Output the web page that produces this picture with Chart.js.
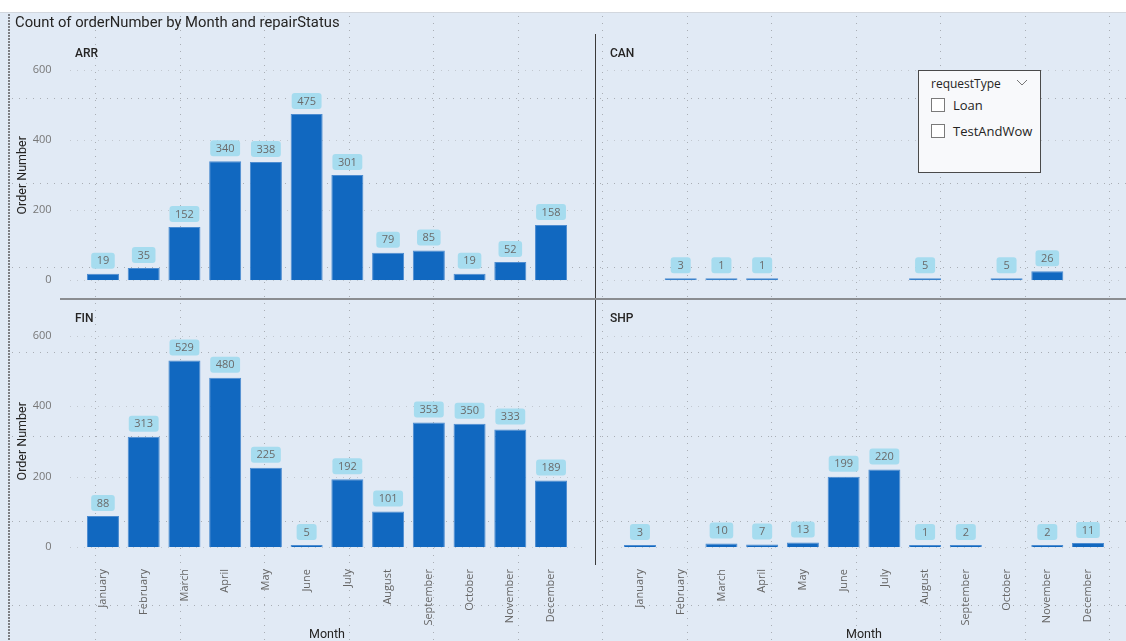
<!DOCTYPE html>
<html>
<head>
<meta charset="utf-8">
<script src="https://cdn.jsdelivr.net/npm/chart.js@4.4.0/dist/chart.umd.min.js"></script>
<style>
  body { margin: 0; width: 1126px; height: 641px; overflow: hidden; background: #fff; position: relative; }
  #page { position: absolute; left: 0; top: 12px; width: 1126px; height: 629px; background: #e1eaf5; border-top: 1px solid #d2d7de; }
  #bg { position: absolute; left: 0; top: 0; }
  .box { position: absolute; }
  .txt { position: absolute; white-space: nowrap; line-height: 16px; color: #252423; font-family: Roboto, 'Noto Sans', sans-serif; }
  .title { left: 15px; top: 14px; font-size: 14.8px; }
  .facet { font-size: 12px; font-weight: 500; }
  .sep-v { position: absolute; left: 595px; top: 34px; width: 1px; height: 531px; background: #3a3a3a; }
  .sep-h { position: absolute; left: 60px; top: 298px; width: 1066px; height: 2px; background: #8a8d91; }
  #slicer { position: absolute; left: 918px; top: 70px; width: 121px; height: 101px; background: #f8f9fb; border: 1px solid #4a4a4a; font-family: 'Segoe UI', 'Open Sans', sans-serif; color: #252423; }
  #slicer .head { position: absolute; left: 12px; top: 4px; font-size: 12px; line-height: 18px; }
  #slicer .chev { position: absolute; left: 97px; top: 8px; }
  #slicer .item { position: absolute; left: 12px; font-size: 13px; line-height: 16px; }
  #slicer .item span { display: inline-block; width: 12px; height: 12px; border: 1px solid #7a7a7a; background: #fff; vertical-align: -2px; margin-right: 8px; }
</style>
</head>
<body>
<div id="page"></div>
<canvas id="bg" width="1126" height="641"></canvas>

<div class="txt title">Count of orderNumber by Month and repairStatus</div>
<div class="txt facet" style="left:75px; top:45px;">ARR</div>
<div class="txt facet" style="left:610px; top:45px;">CAN</div>
<div class="txt facet" style="left:75px; top:310px;">FIN</div>
<div class="txt facet" style="left:610px; top:310px;">SHP</div>

<div class="box" style="left:0; top:33px;"><canvas id="arr" width="595" height="265"></canvas></div>
<div class="box" style="left:537px; top:33px;"><canvas id="can" width="595" height="265"></canvas></div>
<div class="box" style="left:0; top:299px;"><canvas id="fin" width="595" height="342"></canvas></div>
<div class="box" style="left:537px; top:299px;"><canvas id="shp" width="595" height="342"></canvas></div>

<div class="sep-v"></div>
<div class="sep-h"></div>

<div id="slicer">
  <div class="head">requestType</div>
  <svg class="chev" width="12" height="8"><polyline points="1,1 6,6 11,1" fill="none" stroke="#777" stroke-width="1"/></svg>
  <div class="item" style="top:26px;"><span></span>Loan</div>
  <div class="item" style="top:52px;"><span></span>TestAndWow</div>
</div>

<script>
// months on the x axis, one array of counts per repairStatus
var months = ['January', 'February', 'March', 'April', 'May', 'June', 'July',
  'August', 'September', 'October', 'November', 'December'];
var arrCounts = [19, 35, 152, 340, 338, 475, 301, 79, 85, 19, 52, 158];
var canCounts = [null, 3, 1, 1, null, null, null, 5, null, 5, 26, null];
var finCounts = [88, 313, 529, 480, 225, 5, 192, 101, 353, 350, 333, 189];
var shpCounts = [3, null, 10, 7, 13, 199, 220, 1, 2, null, 2, 11];
var yTicks = [0, 200, 400, 600];

// report canvas grid behind the visual
(function drawCanvasGrid() {
  var ctx = document.getElementById('bg').getContext('2d');
  ctx.strokeStyle = '#a9aeb5';
  ctx.lineWidth = 1;
  ctx.setLineDash([1, 6]);
  for (var x = 10.5 + 84.5; x < 1126; x += 84.5) {
    var px = Math.round(x) + 0.5;
    ctx.beginPath(); ctx.moveTo(px, 16); ctx.lineTo(px, 641); ctx.stroke();
  }
  for (var y = 13.5 + 84.5; y < 641; y += 84.5) {
    var py = Math.round(y) + 0.5;
    ctx.beginPath(); ctx.moveTo(12, py); ctx.lineTo(1126, py); ctx.stroke();
  }
  // dotted selection edge on the left
  ctx.strokeStyle = '#7d7f83';
  ctx.lineWidth = 2;
  ctx.setLineDash([2, 1]);
  ctx.beginPath(); ctx.moveTo(9, 14); ctx.lineTo(9, 641); ctx.stroke();
})();

var dottedGrid = {
  id: 'dottedGrid',
  beforeDatasetsDraw: function(chart) {
    var ctx = chart.ctx, area = chart.chartArea, y = chart.scales.y;
    ctx.save();
    ctx.strokeStyle = '#c2c8d0';
    ctx.lineWidth = 1;
    ctx.setLineDash([1, 6]);
    y.ticks.forEach(function(t) {
      var py = Math.round(y.getPixelForValue(t.value)) + 0.5;
      ctx.beginPath();
      ctx.moveTo(area.left - 12.6, py);
      ctx.lineTo(area.right + 12.6, py);
      ctx.stroke();
    });
    ctx.restore();
  }
};

var valueBoxes = {
  id: 'valueBoxes',
  afterDatasetsDraw: function(chart) {
    var ctx = chart.ctx;
    var values = chart.data.datasets[0].data;
    var bars = chart.getDatasetMeta(0).data;
    ctx.save();
    ctx.font = '11px "Segoe UI", "Open Sans", sans-serif';
    ctx.textAlign = 'center';
    ctx.textBaseline = 'middle';
    bars.forEach(function(bar, i) {
      var v = values[i];
      if (v === null) return;
      var txt = String(v);
      var w = Math.max(ctx.measureText(txt).width + 11, 20);
      var h = 16;
      var top = bar.y - 5 - h;
      ctx.fillStyle = '#a6dcef';
      ctx.beginPath();
      ctx.roundRect(bar.x - w / 2, top, w, h, 3);
      ctx.fill();
      ctx.fillStyle = '#6a6a6a';
      ctx.fillText(txt, bar.x, top + h / 2 + 0.5);
    });
    ctx.restore();
  }
};

function makeChart(id, counts, showY, showX) {
  var pad = showX ? { top: 36.5, bottom: 0, left: 0, right: 23.6 }
                  : { top: 37.3, bottom: 17.7, left: 0, right: 23.6 };
  return new Chart(document.getElementById(id), {
    type: 'bar',
    data: {
      labels: months,
      datasets: [{
        data: counts,
        backgroundColor: '#1168c0',
        borderColor: '#4d8cd0',
        borderWidth: 1,
        minBarLength: 2,
        categoryPercentage: 1,
        barPercentage: 0.786
      }]
    },
    options: {
      responsive: false,
      animation: false,
      layout: { padding: pad },
      plugins: { legend: { display: false }, tooltip: { enabled: false } },
      scales: {
        x: {
          display: showX,
          grid: { display: false, drawTicks: false },
          border: { display: false },
          ticks: {
            autoSkip: false, minRotation: 90, maxRotation: 90, padding: 22,
            color: '#666', font: { family: "'Segoe UI', 'Open Sans', sans-serif", size: 11 }
          },
          title: {
            display: true, text: 'Month', color: '#252423', padding: { top: 0, bottom: -1 },
            font: { family: 'Roboto', size: 12.5 }
          },
          afterFit: function(axis) { axis.height = showX ? 94 : 0; }
        },
        y: {
          min: 0, max: 600,
          afterBuildTicks: function(axis) { axis.ticks = yTicks.map(function(v) { return { value: v }; }); },
          grid: { display: false, drawTicks: false },
          border: { display: false },
          ticks: {
            display: showY, padding: 31, color: '#777',
            font: { family: "'Segoe UI', 'Open Sans', sans-serif", size: 11 }
          },
          title: {
            display: showY, text: 'Order Number', color: '#252423', padding: { top: 15, bottom: 0 },
            font: { family: 'Roboto', size: 12.5 }
          },
          afterFit: function(axis) {
            // fixed axis width; tick labels must not push the plot area
            axis.width = 82.6;
            axis.paddingTop = 0;
            axis.paddingBottom = 0;
          }
        }
      }
    },
    plugins: [dottedGrid, valueBoxes]
  });
}

makeChart('arr', arrCounts, true, false);
makeChart('can', canCounts, false, false);
makeChart('fin', finCounts, true, true);
makeChart('shp', shpCounts, false, true);
</script>
</body>
</html>
